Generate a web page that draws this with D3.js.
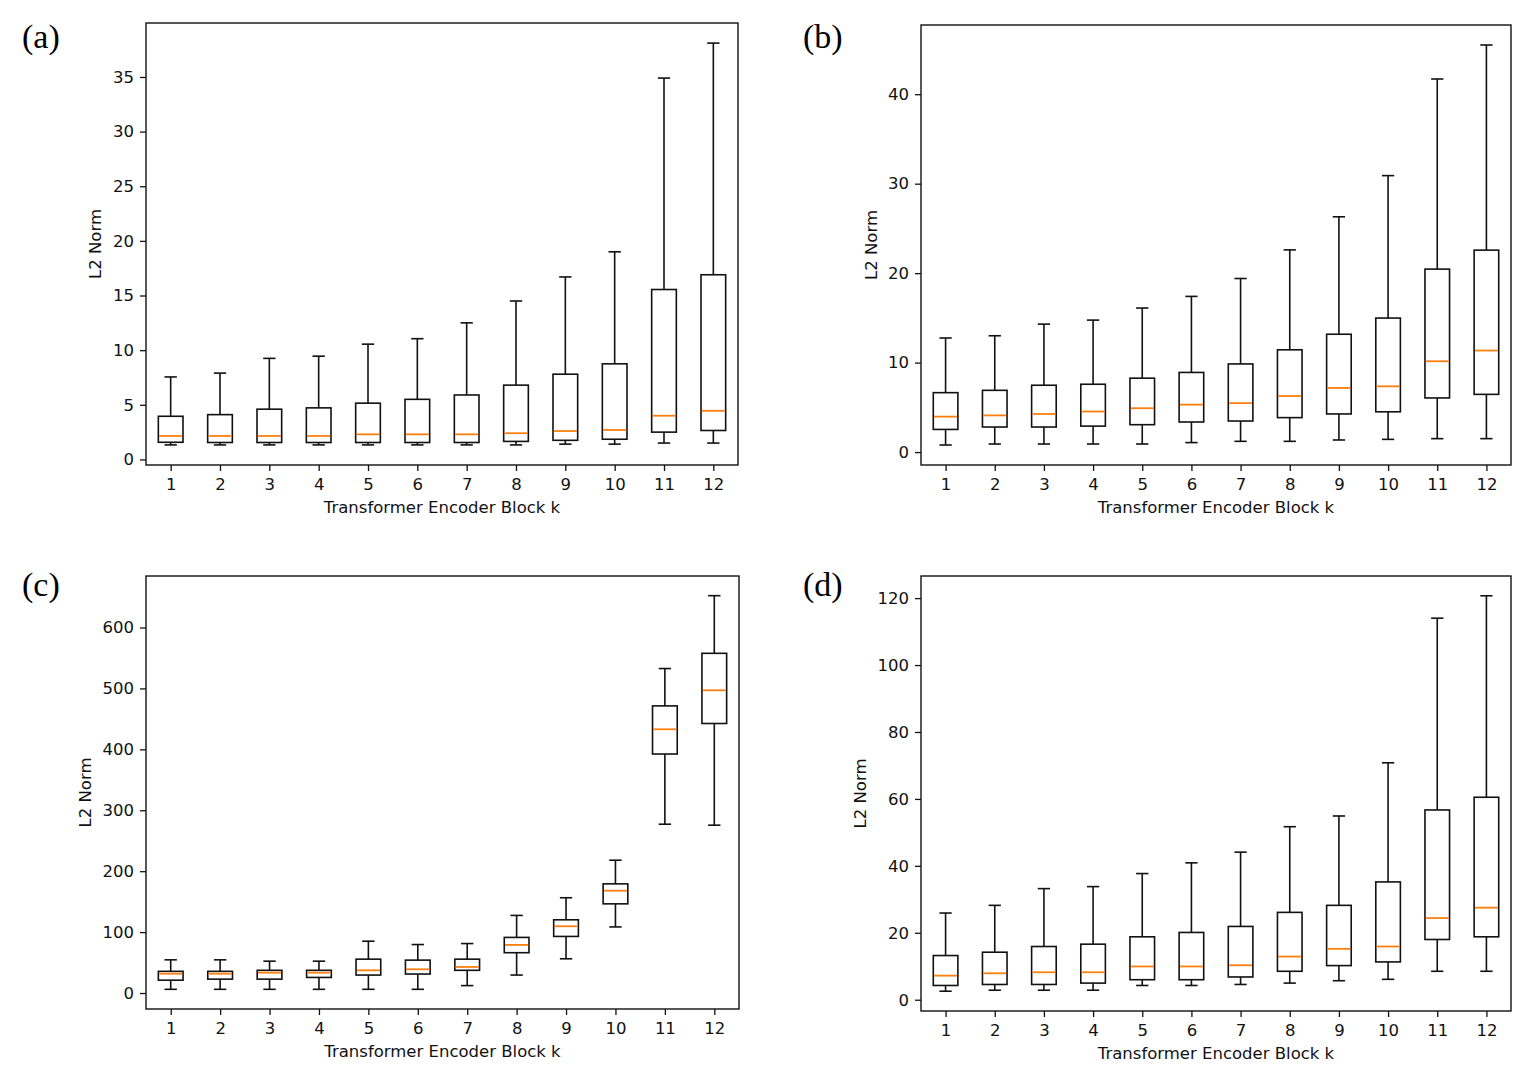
<!DOCTYPE html>
<html><head><meta charset="utf-8">
<script src="https://cdn.jsdelivr.net/npm/d3@7"></script>
<style>body{margin:0;background:#fff} svg{display:block}</style>
</head><body>
<svg id="chart" width="1522" height="1072"></svg>
<script>
// ---------- data ----------
const blocks = [1, 2, 3, 4, 5, 6, 7, 8, 9, 10, 11, 12];
const xLabel = "Transformer Encoder Block k";
const yLabel = "L2 Norm";

// panel (a)
const aLow  = [1.33, 1.33, 1.33, 1.33, 1.33, 1.33, 1.33, 1.33, 1.4, 1.4, 1.5, 1.5];
const aQ1   = [1.57, 1.55, 1.55, 1.55, 1.55, 1.55, 1.55, 1.65, 1.75, 1.85, 2.5, 2.65];
const aMed  = [2.15, 2.15, 2.15, 2.15, 2.3, 2.3, 2.3, 2.4, 2.6, 2.7, 4.0, 4.45];
const aQ3   = [3.95, 4.1, 4.6, 4.72, 5.15, 5.5, 5.9, 6.8, 7.8, 8.75, 15.55, 16.9];
const aHigh = [7.55, 7.9, 9.25, 9.45, 10.55, 11.05, 12.5, 14.5, 16.7, 19.0, 34.9, 38.1];
const aTicks = [0, 5, 10, 15, 20, 25, 30, 35];

// panel (b)
const bLow  = [0.79, 0.9, 0.9, 0.9, 0.9, 1.06, 1.2, 1.2, 1.35, 1.42, 1.5, 1.5];
const bQ1   = [2.53, 2.8, 2.8, 2.9, 3.06, 3.36, 3.47, 3.85, 4.26, 4.5, 6.05, 6.45];
const bMed  = [3.96, 4.1, 4.26, 4.53, 4.9, 5.3, 5.47, 6.26, 7.17, 7.35, 10.15, 11.35];
const bQ3   = [6.64, 6.9, 7.47, 7.58, 8.26, 8.9, 9.85, 11.43, 13.17, 14.98, 20.45, 22.57];
const bHigh = [12.75, 13.0, 14.3, 14.75, 16.1, 17.4, 19.4, 22.6, 26.3, 30.9, 41.7, 45.5];
const bTicks = [0, 10, 20, 30, 40];

// panel (c)
const cLow  = [6.1, 6.1, 6.1, 6.1, 6.1, 6.1, 12.2, 29.5, 56.2, 108.5, 277.1, 275.5];
const cQ1   = [21.1, 22.8, 22.8, 25.6, 29.5, 31.2, 37.3, 66.2, 92.9, 146.4, 392.3, 442.4];
const cMed  = [31.7, 31.7, 33.4, 33.4, 37.3, 39.0, 42.8, 79.0, 109.6, 168.0, 432.9, 496.9];
const cQ3   = [35.6, 35.6, 37.3, 37.3, 55.6, 54.0, 55.6, 91.3, 120.2, 179.2, 471.3, 557.6];
const cHigh = [54.5, 54.5, 52.3, 52.3, 85.1, 79.6, 81.2, 127.4, 156.4, 218.0, 532.6, 652.2];
const cTicks = [0, 100, 200, 300, 400, 500, 600];

// panel (d)
const dLow  = [2.54, 2.84, 2.84, 2.84, 4.26, 4.26, 4.56, 4.97, 5.68, 6.1, 8.5, 8.5];
const dQ1   = [4.26, 4.56, 4.56, 4.97, 5.98, 5.98, 6.8, 8.5, 10.2, 11.3, 18.0, 18.8];
const dMed  = [7.2, 7.9, 8.2, 8.2, 9.94, 9.94, 10.3, 12.9, 15.2, 15.9, 24.4, 27.5];
const dQ3   = [13.2, 14.2, 15.9, 16.6, 18.8, 20.1, 21.9, 26.1, 28.2, 35.2, 56.7, 60.5];
const dHigh = [25.9, 28.2, 33.2, 33.8, 37.7, 40.9, 44.1, 51.7, 54.9, 70.8, 114.0, 120.7];
const dTicks = [0, 20, 40, 60, 80, 100, 120];

// ---------- layout ----------
const panels = [
  {tag: "(a)", low: aLow, q1: aQ1, med: aMed, q3: aQ3, high: aHigh, ticks: aTicks,
   frame: {l: 146, r: 738, t: 23, b: 465}, tagPos: [22, 48], yLabOff: 45},
  {tag: "(b)", low: bLow, q1: bQ1, med: bMed, q3: bQ3, high: bHigh, ticks: bTicks,
   frame: {l: 921, r: 1511, t: 25, b: 465}, tagPos: [803, 48], yLabOff: 44},
  {tag: "(c)", low: cLow, q1: cQ1, med: cMed, q3: cQ3, high: cHigh, ticks: cTicks,
   frame: {l: 146, r: 739, t: 576, b: 1009}, tagPos: [22, 596], yLabOff: 55},
  {tag: "(d)", low: dLow, q1: dQ1, med: dMed, q3: dQ3, high: dHigh, ticks: dTicks,
   frame: {l: 921, r: 1511, t: 576, b: 1011}, tagPos: [803, 596], yLabOff: 55}
];

const svg = d3.select("#chart");
const FONT = "DejaVu Sans";
const FS = 16.5;
const BOXW = 0.5, CAPW = 0.25;
const INK = "#111";

panels.forEach(p => {
  const f = p.frame;
  const x = d3.scaleLinear().domain([0.5, 12.5]).range([f.l, f.r]);
  const lo = d3.min(p.low), hi = d3.max(p.high), m = (hi - lo) * 0.05;
  const y = d3.scaleLinear().domain([lo - m, hi + m]).range([f.b, f.t]);
  const g = svg.append("g");

  const rows = blocks.map((k, i) => ({k, low: p.low[i], q1: p.q1[i], med: p.med[i], q3: p.q3[i], high: p.high[i]}));
  const bx = g.selectAll("g.box").data(rows).join("g").attr("class", "box")
    .attr("stroke", INK).attr("stroke-width", 1.6).attr("fill", "none");

  // whiskers
  bx.append("line").attr("x1", d => x(d.k)).attr("x2", d => x(d.k))
    .attr("y1", d => y(d.q3)).attr("y2", d => y(d.high));
  bx.append("line").attr("x1", d => x(d.k)).attr("x2", d => x(d.k))
    .attr("y1", d => y(d.q1)).attr("y2", d => y(d.low));
  // caps
  bx.append("line").attr("x1", d => x(d.k - CAPW / 2)).attr("x2", d => x(d.k + CAPW / 2))
    .attr("y1", d => y(d.high)).attr("y2", d => y(d.high));
  bx.append("line").attr("x1", d => x(d.k - CAPW / 2)).attr("x2", d => x(d.k + CAPW / 2))
    .attr("y1", d => y(d.low)).attr("y2", d => y(d.low));
  // box
  bx.append("rect").attr("x", d => x(d.k - BOXW / 2)).attr("width", d => x(d.k + BOXW / 2) - x(d.k - BOXW / 2))
    .attr("y", d => y(d.q3)).attr("height", d => y(d.q1) - y(d.q3)).attr("fill", "#fff");
  // median
  bx.append("line").attr("x1", d => x(d.k - BOXW / 2) + 0.8).attr("x2", d => x(d.k + BOXW / 2) - 0.8)
    .attr("y1", d => y(d.med)).attr("y2", d => y(d.med))
    .attr("stroke", "#ff7f0e").attr("stroke-width", 1.8);

  // axes
  const ax = g.append("g").attr("transform", `translate(0,${f.b})`)
    .call(d3.axisBottom(x).tickValues(blocks).tickSize(6).tickPadding(7).tickSizeOuter(0).tickFormat(d3.format("d")));
  const ay = g.append("g").attr("transform", `translate(${f.l},0)`)
    .call(d3.axisLeft(y).tickValues(p.ticks).tickSize(6).tickPadding(6).tickSizeOuter(0).tickFormat(d3.format("d")));
  [ax, ay].forEach(a => {
    a.select(".domain").remove();
    a.attr("font-family", FONT).attr("font-size", FS);
    a.selectAll(".tick line").attr("stroke", INK).attr("stroke-width", 1.3);
    a.selectAll(".tick text").attr("fill", "#111");
  });

  // frame
  g.append("rect").attr("x", f.l).attr("y", f.t).attr("width", f.r - f.l).attr("height", f.b - f.t)
    .attr("fill", "none").attr("stroke", INK).attr("stroke-width", 1.4);

  // axis labels
  g.append("text").attr("x", (f.l + f.r) / 2).attr("y", f.b + 48)
    .attr("text-anchor", "middle").attr("font-family", FONT).attr("font-size", FS).attr("fill", "#111").text(xLabel);
  g.append("text").attr("transform", `translate(${f.l - p.yLabOff},${(f.t + f.b) / 2}) rotate(-90)`)
    .attr("text-anchor", "middle").attr("font-family", FONT).attr("font-size", FS).attr("fill", "#111").text(yLabel);

  // panel tag
  g.append("text").attr("x", p.tagPos[0]).attr("y", p.tagPos[1])
    .attr("font-family", "Liberation Serif").attr("font-size", 34).text(p.tag);
});
</script>
</body></html>
